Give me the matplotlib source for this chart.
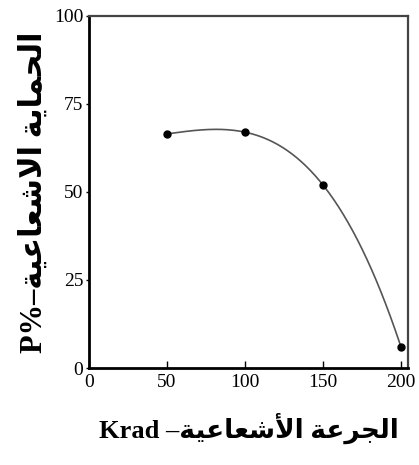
import numpy as np
import matplotlib
matplotlib.use('Agg')
import matplotlib.pyplot as plt

# dose (Krad) and radioprotection P%
dose = [50, 100, 150, 200]
protection = [66.5, 67, 52, 6]
x_ticks = [0, 50, 100, 150, 200]
y_ticks = [0, 25, 50, 75, 100]

ylabel_ar = 'الحماية الاشعاعية'
xlabel_ar = 'الجرعة الأشعاعية'

# arabic presentation forms: (isolated, final, initial, medial)
FORMS = {
    'ا': ('\uFE8D', '\uFE8E', None, None),
    'أ': ('\uFE83', '\uFE84', None, None),
    'ر': ('\uFEAD', '\uFEAE', None, None),
    'ة': ('\uFE93', '\uFE94', None, None),
    'ل': ('\uFEDD', '\uFEDE', '\uFEDF', '\uFEE0'),
    'ح': ('\uFEA1', '\uFEA2', '\uFEA3', '\uFEA4'),
    'م': ('\uFEE1', '\uFEE2', '\uFEE3', '\uFEE4'),
    'ي': ('\uFEF1', '\uFEF2', '\uFEF3', '\uFEF4'),
    'ش': ('\uFEB5', '\uFEB6', '\uFEB7', '\uFEB8'),
    'ع': ('\uFEC9', '\uFECA', '\uFECB', '\uFECC'),
    'ج': ('\uFE9D', '\uFE9E', '\uFE9F', '\uFEA0'),
}
LAM_ALEF = {'ا': ('\uFEFB', '\uFEFC'), 'أ': ('\uFEF7', '\uFEF8')}


def joins_left(c):
    return c in FORMS and FORMS[c][2] is not None


def shape(text):
    out = []
    i = 0
    while i < len(text):
        c = text[i]
        if c not in FORMS:
            out.append(c)
            i += 1
            continue
        prev = text[i - 1] if i > 0 else ' '
        joined_prev = joins_left(prev)
        nxt = text[i + 1] if i + 1 < len(text) else ' '
        if c == 'ل' and nxt in LAM_ALEF:
            out.append(LAM_ALEF[nxt][1 if joined_prev else 0])
            i += 2
            continue
        joined_next = joins_left(c) and nxt in FORMS
        iso, fin, ini, med = FORMS[c]
        if joined_prev and joined_next:
            out.append(med)
        elif joined_prev:
            out.append(fin)
        elif joined_next:
            out.append(ini)
        else:
            out.append(iso)
        i += 1
    return ''.join(out)[::-1]


plt.rcParams['font.family'] = ['Liberation Serif', 'DejaVu Sans']

fig = plt.figure(figsize=(4.19, 4.65), dpi=100)
ax = fig.add_axes([0.2124, 0.2086, 0.7613, 0.757])

coef = np.polyfit(dose, protection, 3)
xs = np.linspace(dose[0], dose[-1], 200)
ax.plot(xs, np.polyval(coef, xs), color='#555555', lw=1.2)
ax.plot(dose, protection, 'o', color='black', ms=5)

ax.set_xlim(0, 204.5)
ax.set_ylim(0, 100)
ax.set_xticks(x_ticks)
ax.set_yticks(y_ticks)
ax.tick_params(axis='x', direction='in', length=5, width=1, labelsize=14, pad=4)
ax.tick_params(axis='y', direction='out', length=2, width=1, labelsize=14, pad=2)

for s in ['left', 'bottom']:
    ax.spines[s].set_linewidth(2)
    ax.spines[s].set_color('black')
for s in ['top', 'right']:
    ax.spines[s].set_linewidth(1.6)
    ax.spines[s].set_color('#444444')

ax.set_xlabel('Krad –' + shape(xlabel_ar), fontsize=19, fontweight='bold', labelpad=16)
ax.set_ylabel('P%–' + shape(ylabel_ar), fontsize=22, fontweight='bold', labelpad=4)

fig.savefig('out.png', dpi=100)
